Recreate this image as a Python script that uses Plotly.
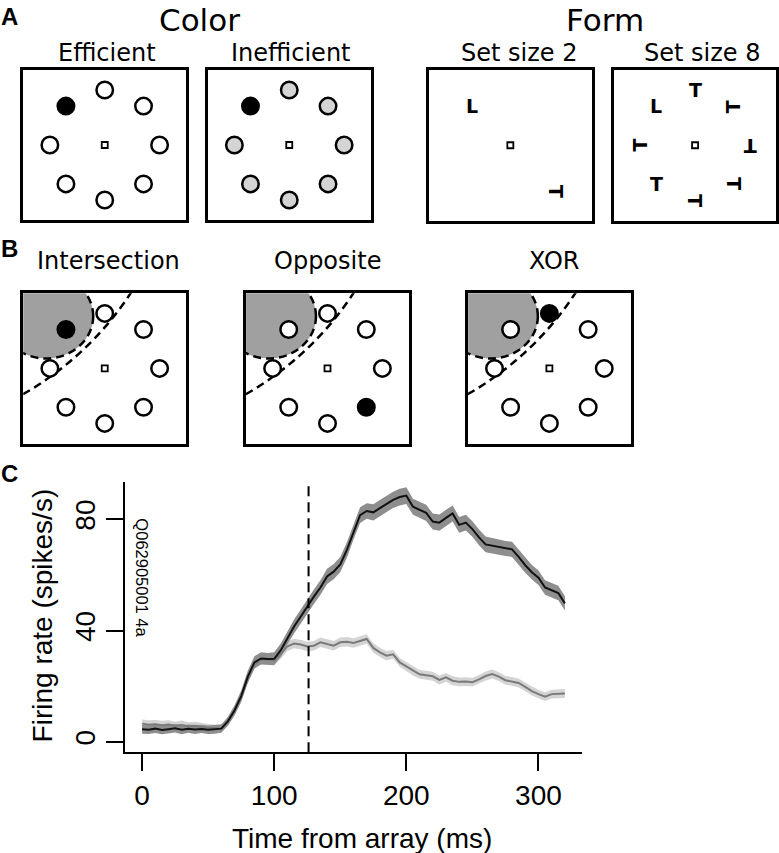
import math
import plotly.graph_objects as go

W, H = 779, 853

# ---------------- data ----------------
# Panel A / B : 8 array positions (deg, counter-clockwise from right)
pos_angles = [90, 45, 0, -45, -90, -135, 180, 135]
color_target_angle = 135
# Form search: set size 2
ss2_items = ["L", "T"]
ss2_angles = [135, -45]
ss2_ecc = [1.0, 1.18]
ss2_rot = [0, 90]
# Form search: set size 8 (same order as pos_angles)
ss8_items = ["T", "T", "T", "T", "T", "T", "T", "L"]
ss8_rot = [0, -90, 180, 90, 90, 0, -90, 0]
# Panel B conditions
b_conditions = ["Intersection", "Opposite", "XOR"]
b_target_angles = [135, -45, 90]
rf_center = [-1.07, 0.95]
rf_radii = [0.86, 0.77]
arc_center = [-4.33, 4.53]
arc_radius = 5.75

# Panel C : firing rates
time_ms = [0, 5, 10, 15, 20, 25, 30, 35, 40, 45, 50, 55, 60,
           65, 70, 75, 80, 85, 90, 95, 100,
           105, 110, 115, 120, 125, 130, 135, 140, 145, 150, 155, 160,
           165, 170, 175, 180, 185, 190, 195, 200, 205, 210, 215, 220,
           225, 230, 235, 240, 245, 250, 255, 260, 265, 270, 275, 280,
           285, 290, 295, 300, 305, 310, 315, 320]
rate_target = [4.6, 4.4, 4.8, 4.3, 4.6, 4.9, 4.4, 4.8, 4.5, 4.7, 4.4, 4.5, 4.8,
               7.5, 11.4, 16.5, 23.5, 28.6, 30.0, 29.8, 29.9,
               33.0, 37.5, 41.5, 45.0, 48.8, 52.2, 55.5, 59.5, 61.2, 63.8, 69.0, 75.5,
               81.5, 83.0, 82.5, 84.0, 85.5, 87.0, 88.0, 88.5, 84.5, 83.5, 82.3, 79.2,
               78.8, 80.5, 82.1, 78.0, 78.8, 76.5, 73.5, 71.0, 70.5, 70.0, 69.5, 69.2,
               66.5, 63.5, 61.0, 59.0, 55.5, 54.5, 53.5, 49.8]
sem_target = [1.6, 1.5, 1.6, 1.5, 1.6, 1.5, 1.6, 1.5, 1.6, 1.5, 1.5, 1.5, 1.5,
              1.6, 1.8, 2.0, 2.1, 2.2, 2.2, 2.2, 2.3,
              2.4, 2.4, 2.5, 2.5, 2.6, 2.6, 2.6, 2.7, 2.7, 2.7, 2.8, 2.8,
              2.8, 2.8, 2.9, 2.9, 2.9, 2.9, 3.0, 3.0, 2.9, 2.9, 2.9, 2.9,
              2.9, 2.9, 2.9, 2.8, 2.8, 2.8, 2.8, 2.8, 2.7, 2.7, 2.7, 2.7,
              2.7, 2.7, 2.6, 2.6, 2.6, 2.6, 2.6, 2.6]
rate_distractor = [6.6, 6.2, 6.4, 6.0, 6.3, 5.8, 6.1, 5.6, 5.8, 5.3, 5.1, 4.9, 5.0,
                   7.3, 11.0, 16.0, 22.5, 27.8, 29.8, 29.6, 29.4,
                   31.5, 34.4, 35.4, 35.0, 34.3, 34.6, 35.8, 35.3, 34.6, 35.8, 36.0, 35.6,
                   36.4, 37.0, 33.8, 32.2, 31.0, 31.5, 28.6, 27.2, 25.5, 24.3, 24.0, 23.6,
                   22.3, 23.2, 22.0, 21.6, 21.7, 21.5, 22.5, 23.7, 24.4, 23.5, 22.2, 21.8,
                   21.2, 19.8, 18.3, 17.2, 16.3, 17.2, 17.4, 17.4]
sem_distractor = [1.5, 1.6, 1.5, 1.6, 1.5, 1.5, 1.6, 1.5, 1.5, 1.5, 1.4, 1.4, 1.4,
                  1.5, 1.5, 1.6, 1.6, 1.6, 1.6, 1.6, 1.6,
                  1.6, 1.7, 1.7, 1.7, 1.7, 1.7, 1.7, 1.7, 1.7, 1.7, 1.7, 1.7,
                  1.7, 1.7, 1.7, 1.7, 1.7, 1.6, 1.6, 1.6, 1.6, 1.6, 1.6, 1.6,
                  1.6, 1.6, 1.6, 1.6, 1.6, 1.6, 1.6, 1.6, 1.6, 1.6, 1.6, 1.6,
                  1.6, 1.6, 1.6, 1.6, 1.6, 1.6, 1.6, 1.6]
selection_time_ms = 126
x_ticks = [0, 100, 200, 300]
y_ticks = [0, 40, 80]
unit_label = "Q062905001 4a"

# ---------------- layout helpers ----------------
FONT = "Liberation Sans, Arial, Helvetica, sans-serif"
TFONT = "DejaVu Sans, Liberation Sans, sans-serif"
GFONT = "DejaVu Sans, Liberation Sans, sans-serif"
UNIT = 55.0  # px per unit of eccentricity


def px(x):
    return x / W


def py(y):
    return 1 - y / H


fig = go.Figure()
layout = dict(width=W, height=H, margin=dict(l=0, r=0, t=0, b=0),
              paper_bgcolor="white", plot_bgcolor="white", showlegend=False,
              annotations=[], shapes=[])

boxes = {
    1: (23.3, 186.7, 70, 220),     # Efficient
    2: (208.3, 371.7, 70, 220),    # Inefficient
    3: (430, 593.3, 70, 220.5),    # Set size 2
    4: (615.7, 778.0, 70, 220.5),  # Set size 8
    5: (23.3, 186.7, 293.3, 443.5),    # Intersection
    6: (246.7, 410, 293.3, 443.5),     # Opposite
    7: (469.3, 632.3, 293.3, 443.5),   # XOR
}

for k, (l, r, t, b) in boxes.items():
    hw = (r - l) / 2 / UNIT
    hh = (b - t) / 2 / UNIT
    common = dict(showline=True, mirror=True, linewidth=2.5, linecolor="black",
                  showticklabels=False, ticks="", showgrid=False, zeroline=False,
                  fixedrange=True)
    layout[f"xaxis{k}"] = dict(domain=[px(l), px(r)], range=[-hw, hw], anchor=f"y{k}", **common)
    layout[f"yaxis{k}"] = dict(domain=[py(b), py(t)], range=[-hh, hh], anchor=f"x{k}", **common)


def pol(ang, ecc=1.0):
    a = math.radians(ang)
    return ecc * math.cos(a), ecc * math.sin(a)


def add_circles(k, angles, fills):
    xs = [pol(a)[0] for a in angles]
    ys = [pol(a)[1] for a in angles]
    fig.add_trace(go.Scatter(x=xs, y=ys, mode="markers", xaxis=f"x{k}", yaxis=f"y{k}",
                             marker=dict(symbol="circle", size=16.5, color=fills,
                                         line=dict(color="black", width=2.5)),
                             hoverinfo="skip", cliponaxis=False))


def add_fix(k):
    fig.add_trace(go.Scatter(x=[0], y=[0], mode="markers", xaxis=f"x{k}", yaxis=f"y{k}",
                             marker=dict(symbol="square", size=6, color="white",
                                         line=dict(color="black", width=1.8)),
                             hoverinfo="skip"))


def glyph(k, x, y, it, rot):
    layout["annotations"].append(dict(x=x, y=y, xref=f"x{k}", yref=f"y{k}", text=it, textangle=rot,
                                      showarrow=False,
                                      font=dict(family=GFONT, size=19, color="black", weight="bold")))


# Panel A - colour
add_circles(1, pos_angles, ["black" if a == color_target_angle else "white" for a in pos_angles])
add_fix(1)
add_circles(2, pos_angles, ["black" if a == color_target_angle else "#d4d4d4" for a in pos_angles])
add_fix(2)

# Panel A - form
add_fix(3)
for it, a, e, rot in zip(ss2_items, ss2_angles, ss2_ecc, ss2_rot):
    x, y = pol(a, e)
    glyph(3, x, y, it, rot)
add_fix(4)
for it, a, rot in zip(ss8_items, pos_angles, ss8_rot):
    x, y = pol(a)
    glyph(4, x, y, it, rot)

# Panel B
for i, (cond, tang) in enumerate(zip(b_conditions, b_target_angles)):
    k = 5 + i
    layout["shapes"].append(dict(type="circle", xref=f"x{k}", yref=f"y{k}", layer="below",
                                 x0=rf_center[0] - rf_radii[0], x1=rf_center[0] + rf_radii[0],
                                 y0=rf_center[1] - rf_radii[1], y1=rf_center[1] + rf_radii[1],
                                 fillcolor="#a0a0a0", line=dict(color="black", width=2.5, dash="8px,5px")))
    layout["shapes"].append(dict(type="circle", xref=f"x{k}", yref=f"y{k}", layer="below",
                                 x0=arc_center[0] - arc_radius, x1=arc_center[0] + arc_radius,
                                 y0=arc_center[1] - arc_radius, y1=arc_center[1] + arc_radius,
                                 fillcolor="rgba(0,0,0,0)", line=dict(color="black", width=2.5, dash="8px,5px")))
    add_circles(k, pos_angles, ["black" if a == tang else "white" for a in pos_angles])
    add_fix(k)

# Panel C
upper_t = [m + s for m, s in zip(rate_target, sem_target)]
lower_t = [m - s for m, s in zip(rate_target, sem_target)]
upper_d = [m + s for m, s in zip(rate_distractor, sem_distractor)]
lower_d = [m - s for m, s in zip(rate_distractor, sem_distractor)]
fig.add_trace(go.Scatter(x=time_ms + time_ms[::-1], y=upper_d + lower_d[::-1], fill="toself",
                         fillcolor="#d4d4d4", line=dict(width=0), mode="lines",
                         xaxis="x8", yaxis="y8", hoverinfo="skip"))
fig.add_trace(go.Scatter(x=time_ms + time_ms[::-1], y=upper_t + lower_t[::-1], fill="toself",
                         fillcolor="#8e8e8e", line=dict(width=0), mode="lines",
                         xaxis="x8", yaxis="y8", hoverinfo="skip"))
fig.add_trace(go.Scatter(x=time_ms, y=rate_distractor, mode="lines",
                         line=dict(color="#7a7a7a", width=2), xaxis="x8", yaxis="y8"))
fig.add_trace(go.Scatter(x=time_ms, y=rate_target, mode="lines",
                         line=dict(color="#111111", width=2), xaxis="x8", yaxis="y8"))

cl, cr, ct, cb = 125.5, 583.3, 482, 752.3
layout["xaxis8"] = dict(domain=[px(cl), px(cr)], range=[-12.8, 332.8], anchor="y8",
                        showline=True, linewidth=2, linecolor="black", ticks="outside",
                        ticklen=17, tickwidth=2, tickcolor="black", tickvals=x_ticks,
                        tickfont=dict(family=FONT, size=28, color="black"),
                        showgrid=False, zeroline=False, fixedrange=True)
layout["yaxis8"] = dict(domain=[py(cb), py(ct)], range=[-3.7, 93.4], anchor="x8",
                        showline=True, linewidth=2, linecolor="black", ticks="outside",
                        ticklen=17, tickwidth=2, tickcolor="black", tickvals=y_ticks,
                        tickangle=-90,
                        tickfont=dict(family=FONT, size=28, color="black"),
                        showgrid=False, zeroline=False, fixedrange=True)
layout["shapes"].append(dict(type="line", xref="x8", yref="y8 domain",
                             x0=selection_time_ms, x1=selection_time_ms, y0=0, y1=1,
                             line=dict(color="black", width=2, dash="10px,6px")))


def text(x, y, s, size, family=FONT, angle=0, bold=False, yanchor="middle"):
    layout["annotations"].append(dict(x=px(x), y=py(y), xref="paper", yref="paper", text=s,
                                      showarrow=False, textangle=angle, xanchor="center", yanchor=yanchor,
                                      font=dict(family=family, size=size, color="black",
                                                weight="bold" if bold else "normal")))


text(10, 17, "A", 24, bold=True)
text(10, 248, "B", 24, bold=True)
text(10, 473, "C", 24, bold=True)
text(200, 0, "Color", 31, TFONT, yanchor="top")
text(606.5, 0, "Form", 31, TFONT, yanchor="top")
text(107.5, 53, "Efficient", 24, TFONT)
text(291.5, 53, "Inefficient", 24, TFONT)
text(520, 53, "Set size 2", 24, TFONT)
text(704, 53, "Set size 8", 24, TFONT)
text(108.5, 261, "Intersection", 24, TFONT)
text(328, 261, "Opposite", 24, TFONT)
text(555, 261, "XOR", 24, TFONT)
text(362.5, 838, "Time from array (ms)", 28)
text(43, 615.5, "Firing rate (spikes/s)", 28, angle=-90)
text(142.5, 577.5, unit_label, 16.5, angle=90)

fig.update_layout(**layout)
fig.write_html("out.html", config={"displayModeBar": False},
               post_script="document.body.style.margin='0';document.body.style.overflow='hidden';")
